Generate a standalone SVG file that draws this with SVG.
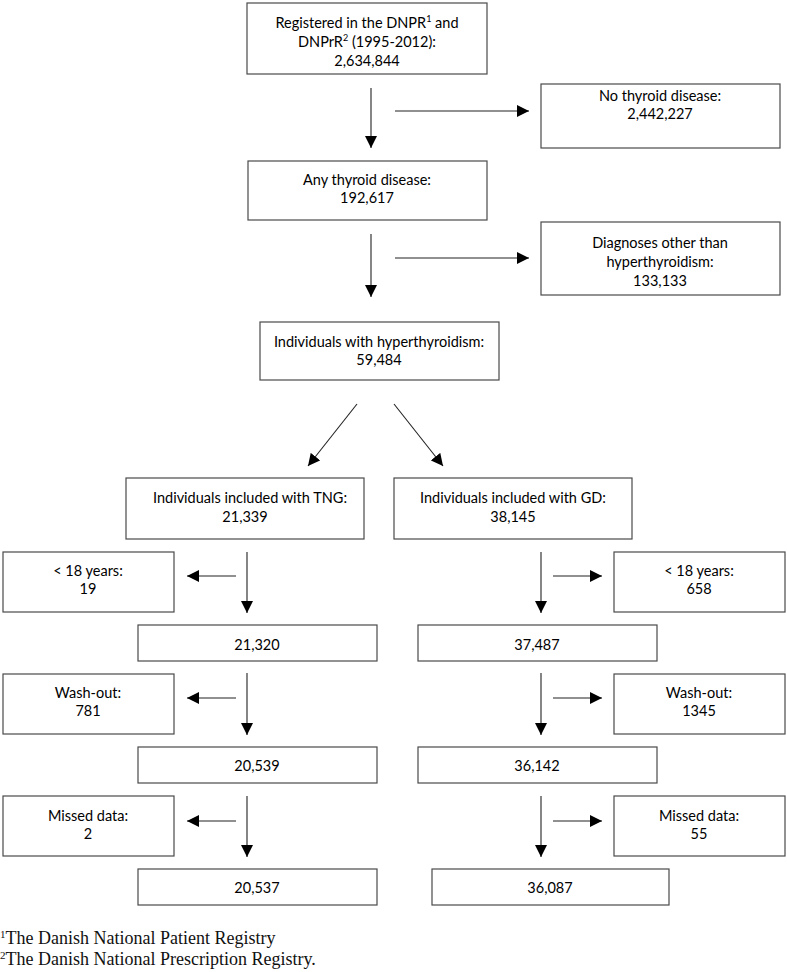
<svg xmlns="http://www.w3.org/2000/svg" width="787" height="972" viewBox="0 0 787 972">
<defs>
<marker id="ah" markerUnits="userSpaceOnUse" markerWidth="12" markerHeight="12" viewBox="0 0 12 12" refX="12" refY="6" orient="auto">
<path d="M0,0 L12,6 L0,12 Z" fill="#000"/>
</marker>
<style>
.box{fill:#fff;stroke:#4a4a4a;stroke-width:1.2}
.t{font-family:Lato,"Liberation Sans",sans-serif;font-size:14.5px;fill:#000;text-anchor:middle}
.c{stroke:#222;stroke-width:1.1;fill:none;marker-end:url(#ah)}
.fn{font-family:"Liberation Serif","Times New Roman",serif;font-size:18px;fill:#111}
</style>
</defs>
<rect width="787" height="972" fill="#fff"/>
<g id="connectors">
<line class="c" x1="371" y1="88" x2="371" y2="148"/>
<line class="c" x1="395" y1="111" x2="529" y2="111"/>
<line class="c" x1="371" y1="234" x2="371" y2="297"/>
<line class="c" x1="395" y1="258" x2="529" y2="258"/>
<line class="c" x1="357" y1="404" x2="308" y2="466"/>
<line class="c" x1="394" y1="404" x2="443" y2="466"/>
<line class="c" x1="247" y1="552" x2="247" y2="613"/>
<line class="c" x1="236" y1="576" x2="187" y2="576"/>
<line class="c" x1="247" y1="673" x2="247" y2="735"/>
<line class="c" x1="236" y1="698" x2="187" y2="698"/>
<line class="c" x1="247" y1="796" x2="247" y2="857"/>
<line class="c" x1="236" y1="821" x2="187" y2="821"/>
<line class="c" x1="541" y1="552" x2="541" y2="613"/>
<line class="c" x1="553" y1="576" x2="602" y2="576"/>
<line class="c" x1="541" y1="673" x2="541" y2="735"/>
<line class="c" x1="553" y1="698" x2="602" y2="698"/>
<line class="c" x1="541" y1="796" x2="541" y2="857"/>
<line class="c" x1="553" y1="821" x2="602" y2="821"/>
</g>
<g id="n-registered">
<rect class="box" x="247" y="3" width="240" height="71"/>
<text class="t" x="367" y="28">Registered in the DNPR<tspan font-size="9" dy="-6">1</tspan><tspan dy="6"> and</tspan></text>
<text class="t" x="367" y="47">DNPrR<tspan font-size="9" dy="-6">2</tspan><tspan dy="6"> (1995-2012):</tspan></text>
<text class="t" x="367" y="66">2,634,844</text>
</g>
<g id="n-nothyroid">
<rect class="box" x="541" y="84" width="239" height="64"/>
<text class="t" x="660" y="101">No thyroid disease:</text>
<text class="t" x="660" y="119">2,442,227</text>
</g>
<g id="n-anythyroid">
<rect class="box" x="248" y="161" width="239" height="59"/>
<text class="t" x="367" y="185">Any thyroid disease:</text>
<text class="t" x="367" y="203">192,617</text>
</g>
<g id="n-diagnoses">
<rect class="box" x="541" y="222" width="239" height="73"/>
<text class="t" x="660" y="248">Diagnoses other than</text>
<text class="t" x="660" y="267">hyperthyroidism:</text>
<text class="t" x="660" y="286">133,133</text>
</g>
<g id="n-hyper">
<rect class="box" x="260" y="322" width="239" height="58"/>
<text class="t" x="379" y="347">Individuals with hyperthyroidism:</text>
<text class="t" x="379" y="365">59,484</text>
</g>
<g id="n-tng">
<rect class="box" x="126" y="478" width="238" height="61"/>
<text class="t" x="250" y="503">Individuals included with TNG:</text>
<text class="t" x="245" y="522">21,339</text>
</g>
<g id="n-gd">
<rect class="box" x="394" y="478" width="238" height="61"/>
<text class="t" x="513" y="503">Individuals included with GD:</text>
<text class="t" x="513" y="522">38,145</text>
</g>
<g id="n-age-l">
<rect class="box" x="3" y="552" width="171" height="60"/>
<text class="t" x="88" y="576">&lt; 18 years:</text>
<text class="t" x="88" y="594">19</text>
</g>
<g id="n-age-r">
<rect class="box" x="614" y="552" width="171" height="60"/>
<text class="t" x="699" y="576">&lt; 18 years:</text>
<text class="t" x="699" y="594">658</text>
</g>
<g id="n-21320">
<rect class="box" x="138" y="625" width="239" height="36"/>
<text class="t" x="257" y="650">21,320</text>
</g>
<g id="n-37487">
<rect class="box" x="418" y="625" width="239" height="36"/>
<text class="t" x="537" y="650">37,487</text>
</g>
<g id="n-wash-l">
<rect class="box" x="3" y="674" width="171" height="60"/>
<text class="t" x="88" y="698">Wash-out:</text>
<text class="t" x="88" y="716">781</text>
</g>
<g id="n-wash-r">
<rect class="box" x="614" y="674" width="171" height="60"/>
<text class="t" x="699" y="698">Wash-out:</text>
<text class="t" x="699" y="716">1345</text>
</g>
<g id="n-20539">
<rect class="box" x="138" y="747" width="239" height="36"/>
<text class="t" x="257" y="771">20,539</text>
</g>
<g id="n-36142">
<rect class="box" x="418" y="747" width="239" height="36"/>
<text class="t" x="537" y="771">36,142</text>
</g>
<g id="n-missed-l">
<rect class="box" x="3" y="796" width="171" height="60"/>
<text class="t" x="88" y="821">Missed data:</text>
<text class="t" x="88" y="839">2</text>
</g>
<g id="n-missed-r">
<rect class="box" x="614" y="796" width="171" height="60"/>
<text class="t" x="699" y="821">Missed data:</text>
<text class="t" x="699" y="839">55</text>
</g>
<g id="n-20537">
<rect class="box" x="138" y="869" width="239" height="36"/>
<text class="t" x="257" y="893">20,537</text>
</g>
<g id="n-36087">
<rect class="box" x="432" y="869" width="237" height="36"/>
<text class="t" x="550" y="893">36,087</text>
</g>
<g id="footnotes">
<text class="fn" x="0" y="944"><tspan font-size="11" dy="-6">1</tspan><tspan dy="6">The Danish National Patient Registry</tspan></text>
<text class="fn" x="0" y="965"><tspan font-size="11" dy="-6">2</tspan><tspan dy="6">The Danish National Prescription Registry.</tspan></text>
</g>
</svg>
